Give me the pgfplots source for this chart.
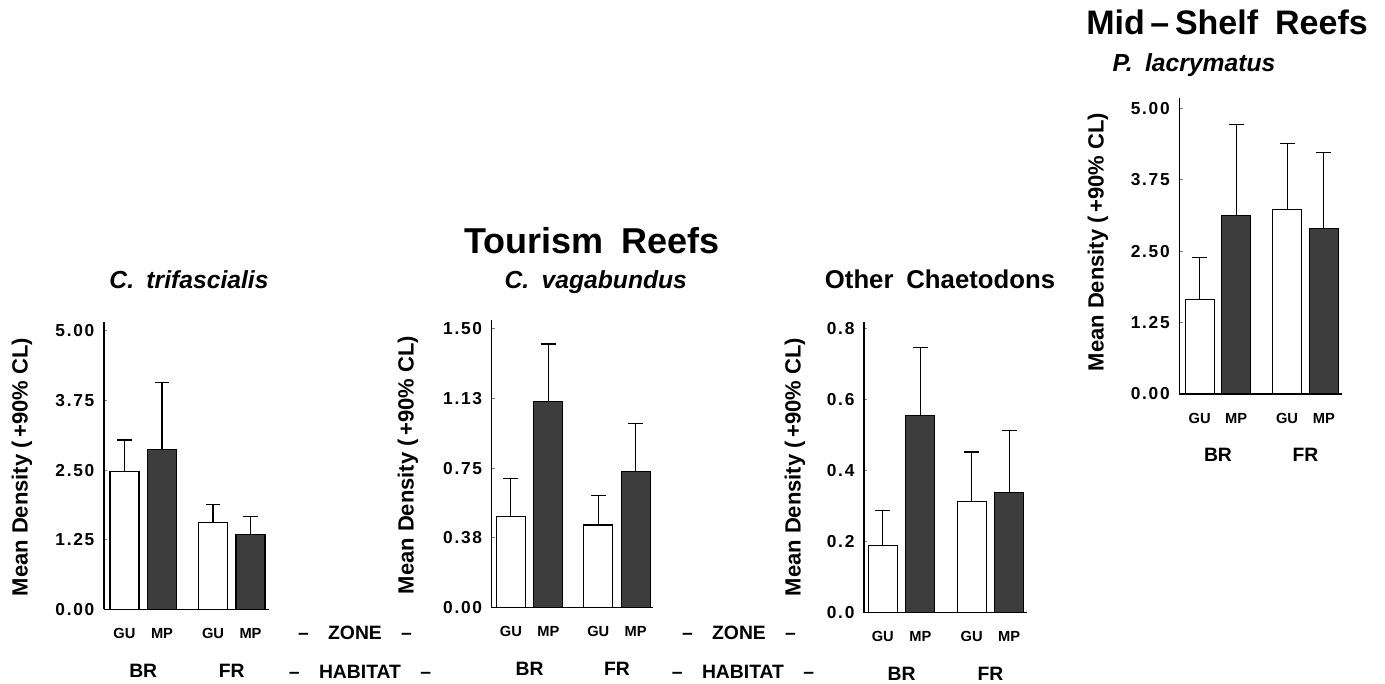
\documentclass[border=0pt]{standalone}
\usepackage{fontspec}
\setmainfont{Liberation Sans}
\newfontfamily\spaced[LetterSpace=10]{Liberation Sans}
\usepackage{pgfplots}
\pgfplotsset{compat=1.18}

\definecolor{darkbar}{gray}{0.24}

\pgfplotsset{
  panel/.style={
    scale only axis, clip=false,
    xmin=0, ymin=0,
    axis x line*=bottom, axis y line*=left,
    axis line style={line width=1.1pt},
    ybar, bar width=29, bar shift=0pt,
    xticklabels={GU,MP,GU,MP},
    major x tick style={draw=none},
    xticklabel style={font=\bfseries\fontsize{11}{11}\selectfont, inner sep=0pt, anchor=center, yshift=-18pt},
    yticklabel style={font=\spaced\bfseries\fontsize{13}{13}\selectfont, inner sep=0pt, anchor=east, xshift=-7pt},
    tick align=inside, major tick length=2.5pt,
    major y tick style={line width=0.8pt},
    error bars/y dir=plus, error bars/y explicit,
    error bars/error mark=|,
    error bars/error bar style={line width=0.8pt, black},
    error bars/error mark options={line width=0.8pt, black, mark size=5.6pt},
  },
  guplot/.style={fill=white, draw=black, line width=0.8pt},
  mpplot/.style={fill=darkbar, draw=black, line width=0.8pt},
}
\newcommand{\hab}[2]{%
  \node[font=\bfseries\fontsize{14.5}{14.5}\selectfont] at (axis cs:#1,0) [yshift=-46pt] {#2};}

\begin{document}
\begin{tikzpicture}
\path[use as bounding box] (0pt,0pt) rectangle (1038.75pt,-513pt);

% C. trifascialis
\begin{axis}[panel, at={(78pt,-456.98pt)}, anchor=south west,
  width=123.75pt, height=215.5pt, xmax=165, ymax=5.16,
  xtick={20.5,58,109,146.5},
  ytick={0,1.25,2.5,3.75,5}, yticklabels={0.00,1.25,2.50,3.75,5.00}]
\addplot[guplot] coordinates {(20.5,2.47) +- (0,0.57) (109,1.56) +- (0,0.33)};
\addplot[mpplot] coordinates {(58,2.87) +- (0,1.21) (146.5,1.35) +- (0,0.32)};
\hab{39.25}{BR}\hab{127.75}{FR}
\end{axis}

% C. vagabundus
\begin{axis}[panel, at={(368.78pt,-455.78pt)}, anchor=south west,
  width=121pt, height=215.8pt, xmax=161.3, ymax=1.545,
  xtick={19.2,56.7,106.6,143.8},
  ytick={0,0.375,0.75,1.125,1.5}, yticklabels={0.00,0.38,0.75,1.13,1.50}]
\addplot[guplot] coordinates {(19.2,0.492) +- (0,0.201) (106.6,0.444) +- (0,0.161)};
\addplot[mpplot] coordinates {(56.7,1.106) +- (0,0.31) (143.8,0.73) +- (0,0.26)};
\hab{37.95}{BR}\hab{125.2}{FR}
\end{axis}

% Other Chaetodons
\begin{axis}[panel, at={(648pt,-459.5pt)}, anchor=south west,
  width=122.25pt, height=218.25pt, xmax=163, ymax=0.8186,
  xtick={18.8,56.4,107.7,145.2},
  ytick={0,0.2,0.4,0.6,0.8}, yticklabels={0.0,0.2,0.4,0.6,0.8}]
\addplot[guplot] coordinates {(18.8,0.188) +- (0,0.099) (107.7,0.314) +- (0,0.138)};
\addplot[mpplot] coordinates {(56.4,0.554) +- (0,0.193) (145.2,0.337) +- (0,0.176)};
\hab{37.6}{BR}\hab{126.45}{FR}
\end{axis}

% P. lacrymatus
\begin{axis}[panel, at={(884.5pt,-295.5pt)}, anchor=south west,
  width=121.8pt, height=221.8pt, xmax=162.4, ymax=5.175,
  xtick={20.4,56.9,107.7,144.5},
  ytick={0,1.25,2.5,3.75,5}, yticklabels={0.00,1.25,2.50,3.75,5.00}]
\addplot[guplot] coordinates {(20.4,1.66) +- (0,0.73) (107.7,3.23) +- (0,1.16)};
\addplot[mpplot] coordinates {(56.9,3.13) +- (0,1.58) (144.5,2.90) +- (0,1.33)};
\hab{38.65}{BR}\hab{126.1}{FR}
\end{axis}

% titles
\node[anchor=base, font=\bfseries\fontsize{27}{27}\selectfont] at (443.8pt,-190pt) {Tourism\hspace{0.5em}Reefs};
\node[anchor=base, font=\bfseries\fontsize{25.5}{25.5}\selectfont] at (920.25pt,-26.25pt) {Mid\,--\,Shelf\hspace{0.5em}Reefs};
\node[anchor=base, font=\bfseries\itshape\fontsize{18.5}{18.5}\selectfont] at (141.75pt,-216.75pt) {C.\hspace{0.5em}trifascialis};
\node[anchor=base, font=\bfseries\itshape\fontsize{18.5}{18.5}\selectfont] at (446.85pt,-216.75pt) {C.\hspace{0.5em}vagabundus};
\node[anchor=base, font=\bfseries\fontsize{19.3}{19.3}\selectfont] at (705pt,-216.75pt) {Other\hspace{0.5em}Chaetodons};
\node[anchor=base, font=\bfseries\itshape\fontsize{18.5}{18.5}\selectfont] at (895.5pt,-53.8pt) {P.\hspace{0.5em}lacrymatus};

% y labels
\foreach \x/\y in {16.5/-350.25, 306/-348.75, 596.25/-350.25, 823.5/-181.5}
  \node[rotate=90, font=\bfseries\fontsize{16.5}{16.5}\selectfont] at (\x pt,\y pt) {Mean Density (\,+90\% CL)};

% zone / habitat
\foreach \x in {266.25, 554.25}
  \node[font=\bfseries\fontsize{14.5}{14.5}\selectfont] at (\x pt,-475pt) {--\quad ZONE\quad --};
\foreach \x in {270, 557.25}
  \node[font=\bfseries\fontsize{14.5}{14.5}\selectfont] at (\x pt,-503.8pt) {--\quad HABITAT\quad --};
\end{tikzpicture}
\end{document}
